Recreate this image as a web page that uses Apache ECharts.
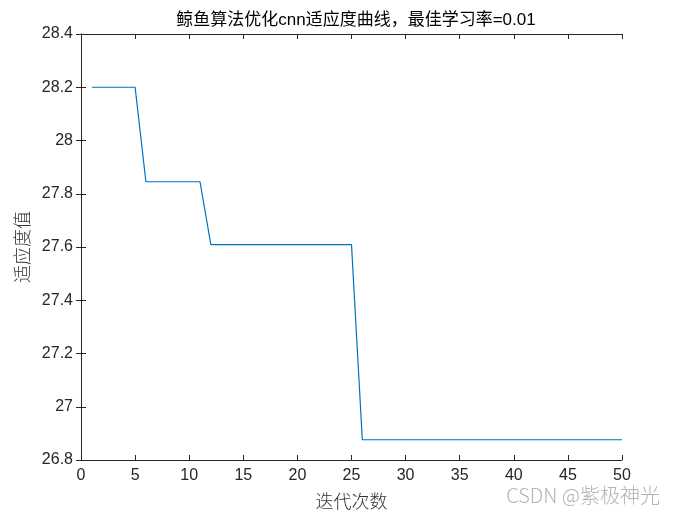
<!DOCTYPE html>
<html><head><meta charset="utf-8">
<script src="https://cdn.jsdelivr.net/npm/echarts@6/dist/echarts.min.js"></script>
<style>html,body{margin:0;padding:0;background:#fff}#c{width:675px;height:515px}</style>
</head><body><div id="c"></div>
<script>
const iterations = Array.from({length:50},(_, i)=>i+1);
const fitness = [
 28.2,28.2,28.2,28.2,28.2,
 27.845,27.845,27.845,27.845,27.845,27.845,
 27.609,27.609,27.609,27.609,27.609,27.609,27.609,27.609,27.609,27.609,27.609,27.609,27.609,27.609,
 26.876,26.876,26.876,26.876,26.876,26.876,26.876,26.876,26.876,26.876,26.876,26.876,26.876,26.876,26.876,26.876,26.876,26.876,26.876,26.876,26.876,26.876,26.876,26.876,26.876
];
const titleText = '鲸鱼算法优化cnn适应度曲线，最佳学习率=0.01';
const xName = '迭代次数';
const yName = '适应度值';
const watermark = 'CSDN @紫极神光';

const fontFam = '"Liberation Sans", Arial, "Noto Sans CJK SC", sans-serif';
const axC = '#262626';
const chart = echarts.init(document.getElementById('c'));
const lineStyle = {color: axC, width: 1};
chart.setOption({
  animation: false,
  backgroundColor: '#fff',
  title: {text: titleText, left: 351, top: 7, textAlign: 'center',
    textStyle: {fontFamily: fontFam, fontSize: 17, fontWeight: 'normal', color: '#000'}},
  graphic: [{type: 'text', right: 15, top: 485, style: {text: watermark, fill: '#b3b3b3', font: '300 20px "Noto Sans CJK SC", sans-serif'}}],
  grid: {left: 81, right: 53, top: 34, bottom: 54},
  xAxis: [
    {type: 'value', min: 0, max: 50, interval: 5, name: xName, nameLocation: 'middle', nameGap: 32,
     nameTextStyle: {fontFamily: '"Noto Sans CJK SC", sans-serif', fontWeight: 300, fontSize: 18, color: '#333'},
     axisLine: {lineStyle}, axisTick: {inside: true, length: 5, lineStyle},
     axisLabel: {fontFamily: fontFam, fontSize: 16, color: axC, margin: 8},
     splitLine: {show: false}},
    {type: 'value', min: 0, max: 50, interval: 5, position: 'top',
     axisLine: {lineStyle}, axisTick: {inside: true, length: 5, lineStyle},
     axisLabel: {show: false}, splitLine: {show: false}}
  ],
  yAxis: [
    {type: 'value', min: 26.8, max: 28.4, interval: 0.2, name: yName, nameLocation: 'middle', nameGap: 50,
     nameTextStyle: {fontFamily: '"Noto Sans CJK SC", sans-serif', fontWeight: 300, fontSize: 18, color: '#333'},
     axisLine: {show: true, lineStyle}, axisTick: {show: true, inside: true, length: 5, lineStyle},
     axisLabel: {fontFamily: fontFam, fontSize: 16, color: axC, margin: 8,
       formatter: v => String(Math.round(v*10)/10)},
     splitLine: {show: false}},
    {type: 'value', min: 26.8, max: 28.4, interval: 0.2, position: 'right',
     axisLine: {show: true, lineStyle}, axisTick: {show: true, inside: true, length: 5, lineStyle},
     axisLabel: {show: false}, splitLine: {show: false}}
  ],
  series: [{type: 'line', data: iterations.map((x,i)=>[x, fitness[i]]), showSymbol: false,
    lineStyle: {color: '#0072BD', width: 1.2}, silent: true}]
});
</script></body></html>
